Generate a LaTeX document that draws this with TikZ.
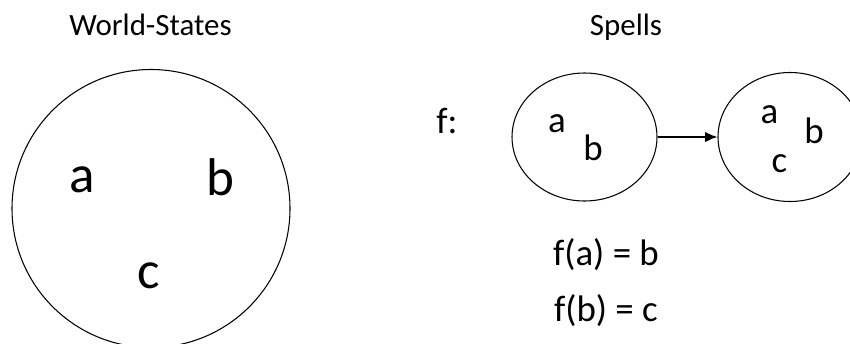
\documentclass[tikz,border=0pt]{standalone}
\usepackage{fontspec}
\setmainfont{Carlito}
\usepackage{tikz}
\usetikzlibrary{arrows.meta, shapes.geometric}

\tikzset{
  title/.style={anchor=base, font=\fontsize{17.6}{20}\selectfont},
  bigletter/.style={anchor=base, font=\fontsize{30.2}{34}\selectfont},
  letter/.style={anchor=base, font=\fontsize{21}{24}\selectfont},
  setline/.style={draw, line width=0.6pt}
}

\begin{document}
\begin{tikzpicture}
  \useasboundingbox (0,0) rectangle (17,6.86);
  \clip (0,0) rectangle (17,6.86);
  % titles
  \node[title] (worldtitle) at (3.01,6.16) {World-States};
  \node[title] (spelltitle) at (12.52,6.16) {Spells};
  % world states
  \node[setline, circle, minimum size=5.56cm] (world) at (3.02,2.69) {};
  \node[bigletter] (wa) at (1.64,3.02) {a};
  \node[bigletter] (wb) at (4.40,2.96) {b};
  \node[bigletter] (wc) at (2.98,1.10) {c};
  % spell f
  \node[letter] (fname) at (8.94,4.20) {f:};
  \node[setline, ellipse, minimum width=2.9cm, minimum height=2.56cm] (before) at (11.69,4.12) {};
  \node[letter] (ba) at (11.14,4.22) {a};
  \node[letter] (bb) at (11.86,3.66) {b};
  \node[setline, ellipse, minimum width=2.88cm, minimum height=2.58cm] (after) at (15.80,4.12) {};
  \node[letter] (aa) at (15.39,4.40) {a};
  \node[letter] (ab) at (16.28,4.00) {b};
  \node[letter] (ac) at (15.59,3.42) {c};
  \draw[line width=1.1pt, -{Latex[length=7pt, width=6pt]}] (before.east) -- (after.west);
  % mapping
  \node[letter] (fa) at (12.12,1.56) {f(a) = b};
  \node[letter] (fb) at (12.12,0.44) {f(b) = c};
\end{tikzpicture}
\end{document}
